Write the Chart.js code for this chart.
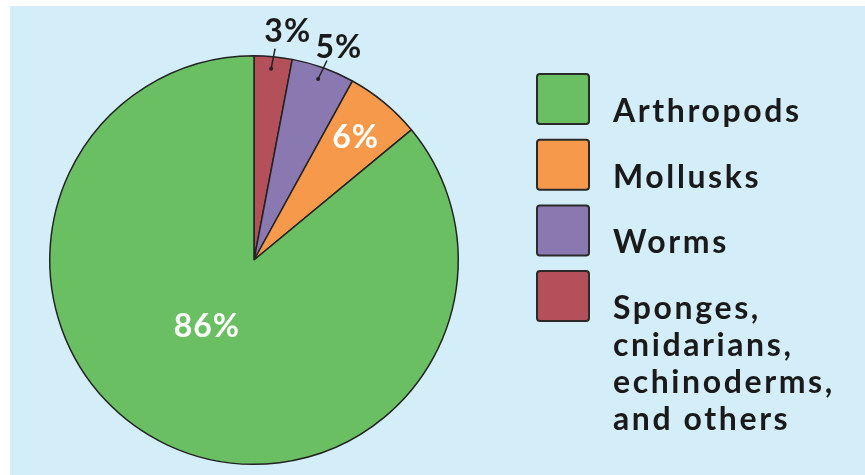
<!DOCTYPE html>
<html>
<head>
<meta charset="utf-8">
<script src="https://cdn.jsdelivr.net/npm/chart.js@4.4.0/dist/chart.umd.min.js"></script>
<style>
  html, body { margin: 0; padding: 0; background: #fff; }
  #wrap { width: 865px; height: 475px; }
</style>
</head>
<body>
<div id="wrap"><canvas id="pie-chart" width="865" height="475"></canvas></div>
<script>
// legend order (top to bottom)
var groups = ['Arthropods', 'Mollusks', 'Worms', 'Sponges, cnidarians, echinoderms, and others'];
var legendLines = [['Arthropods'], ['Mollusks'], ['Worms'], ['Sponges,', 'cnidarians,', 'echinoderms,', 'and others']];
var shares = [86, 6, 5, 3];
var pctLabels = ['86%', '6%', '5%', '3%'];
var colors = ['#6bbf63', '#f7994a', '#8a78b0', '#b4505a'];

// where each % label sits: radius fraction, angle shift (deg), inside/outside
var labelPos = [
  { r: 0.40, da: 10, inside: true },
  { r: 0.78, da: 0, inside: true },
  { r: 1.12, da: 2, inside: false },
  { r: 1.13, da: 3, inside: false }
];

var FONT = 'Lato, "Open Sans", sans-serif';

// the pie goes clockwise: sponges, worms, mollusks, arthropods
var order = [3, 2, 1, 0];

var bgPlugin = {
  id: 'bg',
  beforeDraw: function(chart) {
    var c = chart.ctx;
    c.save();
    c.fillStyle = '#ffffff';
    c.fillRect(0, 0, chart.width, chart.height);
    c.fillStyle = '#d3eef9';
    c.fillRect(10, 6, chart.width - 10, chart.height - 6);
    c.restore();
  }
};

var labelPlugin = {
  id: 'pctLabels',
  afterDatasetsDraw: function(chart) {
    var c = chart.ctx;
    var meta = chart.getDatasetMeta(0);
    c.save();
    c.font = 'bold 32px ' + FONT;
    c.letterSpacing = '1px';
    c.textAlign = 'center';
    c.textBaseline = 'middle';
    meta.data.forEach(function(arc, k) {
      var i = order[k];
      var p = arc.getProps(['x', 'y', 'startAngle', 'endAngle', 'outerRadius'], true);
      var pos = labelPos[i];
      var mid = (p.startAngle + p.endAngle) / 2 + pos.da * Math.PI / 180;
      var R = p.outerRadius;
      var tx = p.x + Math.cos(mid) * R * pos.r;
      var ty = p.y + Math.sin(mid) * R * pos.r;
      if (pos.inside) {
        c.fillStyle = '#ffffff';
      } else {
        // leader line
        var a0 = (p.startAngle + p.endAngle) / 2 - 0.005;
        var x0 = p.x + Math.cos(a0) * R * 0.94;
        var y0 = p.y + Math.sin(a0) * R * 0.94;
        var x1 = p.x + Math.cos(a0 + 0.01) * R * 1.04;
        var y1 = p.y + Math.sin(a0 + 0.01) * R * 1.04;
        c.strokeStyle = '#222';
        c.lineWidth = 1.5;
        c.beginPath();
        c.moveTo(x0, y0);
        c.lineTo(x1, y1);
        c.stroke();
        c.fillStyle = '#222';
        c.beginPath();
        c.arc(x0, y0, 2, 0, Math.PI * 2);
        c.fill();
        c.fillStyle = '#1a1a1a';
      }
      c.fillText(pctLabels[i], tx, ty);
    });
    c.restore();
  }
};

var legendPlugin = {
  id: 'sideLegend',
  afterDraw: function(chart) {
    var c = chart.ctx;
    c.save();
    var boxX = 537, boxY = 74, boxW = 52, boxH = 50, step = 65.7;
    c.font = 'bold 32px ' + FONT;
    c.letterSpacing = '2.6px';
    c.textAlign = 'left';
    c.textBaseline = 'alphabetic';
    for (var i = 0; i < groups.length; i++) {
      var y = boxY + i * step;
      c.fillStyle = colors[i];
      c.strokeStyle = '#2a2a2a';
      c.lineWidth = 2;
      c.beginPath();
      c.roundRect(boxX, y, boxW, boxH, 3);
      c.fill();
      c.stroke();
      c.fillStyle = '#1a1a1a';
      for (var j = 0; j < legendLines[i].length; j++) {
        c.fillText(legendLines[i][j], 613, y + 48 + j * 37);
      }
    }
    c.restore();
  }
};

new Chart(document.getElementById('pie-chart'), {
  type: 'pie',
  data: {
    labels: order.map(function(i) { return groups[i]; }),
    datasets: [{
      data: order.map(function(i) { return shares[i]; }),
      backgroundColor: order.map(function(i) { return colors[i]; }),
      borderColor: '#222',
      borderWidth: 1.5
    }]
  },
  options: {
    responsive: false,
    animation: false,
    events: [],
    layout: { padding: { top: 55, bottom: 10, left: 48, right: 405 } },
    plugins: {
      legend: { display: false },
      tooltip: { enabled: false }
    }
  },
  plugins: [bgPlugin, labelPlugin, legendPlugin]
});
</script>
</body>
</html>
